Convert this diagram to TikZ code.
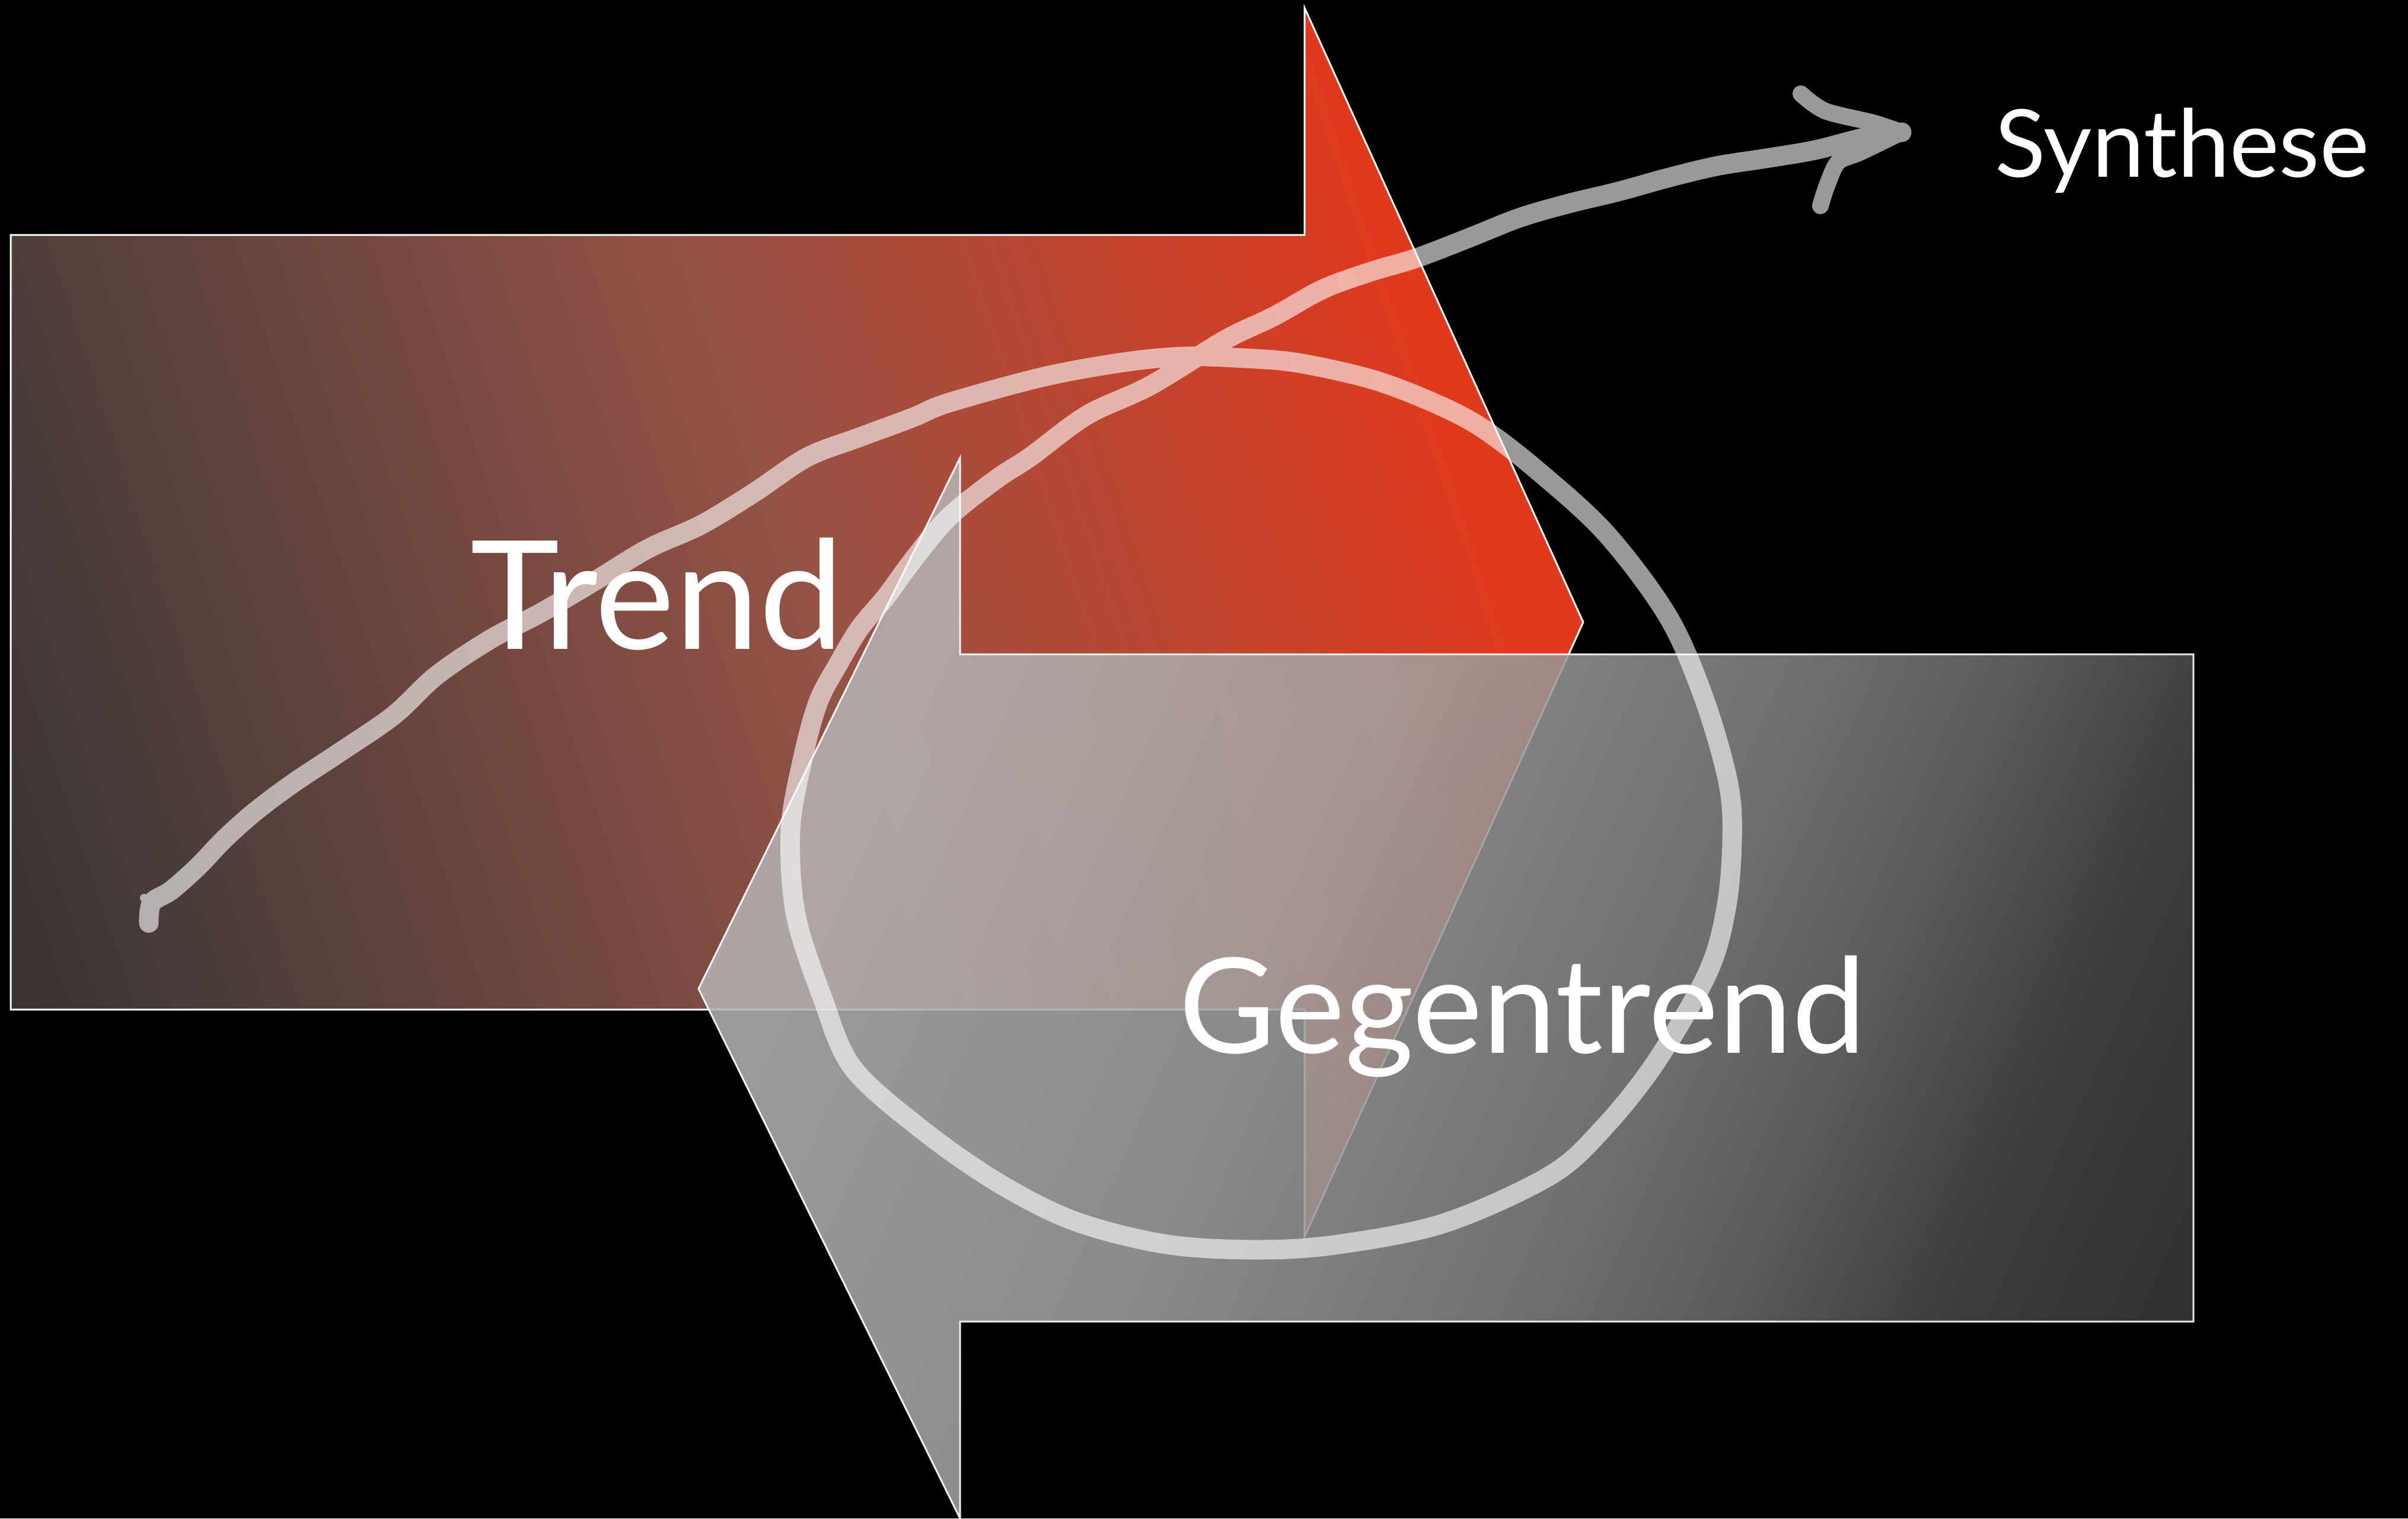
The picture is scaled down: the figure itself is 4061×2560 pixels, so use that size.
\documentclass[tikz,border=0pt]{standalone}
\usepackage{fontspec}
\setmainfont{Lato}
\definecolor{rA}{RGB}{55,50,49}
\definecolor{rB}{RGB}{58,51,50}
\definecolor{rC}{RGB}{68,58,56}
\definecolor{rD}{RGB}{149,82,70}
\definecolor{rE}{RGB}{224,58,30}
\definecolor{rF}{RGB}{226,59,30}
\definecolor{gA}{RGB}{182,182,182}
\definecolor{gB}{RGB}{180,180,180}
\definecolor{gC}{RGB}{162,162,162}
\definecolor{gD}{RGB}{131,131,131}
\definecolor{gE}{RGB}{106,106,106}
\definecolor{gF}{RGB}{73,73,73}
\definecolor{gG}{RGB}{59,59,59}
\pgfdeclarehorizontalshading{redgrad}{100bp}{color(0bp)=(rA); color(21.3bp)=(rB); color(25.3bp)=(rC); color(50.5bp)=(rD); color(72.9bp)=(rE); color(100bp)=(rF)}
\pgfdeclarehorizontalshading{graygrad}{100bp}{color(0bp)=(gA); color(27.8bp)=(gB); color(43.8bp)=(gC); color(57.3bp)=(gD); color(64.5bp)=(gE); color(71.4bp)=(gF); color(78.6bp)=(gG); color(100bp)=(gG)}
\tikzset{
  outline/.style={draw=white, line width=0.3mm, line join=miter},
  label/.style={text=white, inner sep=0pt, anchor=base},
  stroke/.style={draw=white, draw opacity=1, line width=3.3mm, line cap=round, line join=round},
}
\begin{document}
\begin{tikzpicture}[x=0.1mm,y=-0.1mm]
\fill[black] (0,0) rectangle (4061,2560);
\useasboundingbox (0,0) rectangle (4061,2560);
% Trend arrow
\shadedraw[shading=redgrad, shading angle=18.35, outline]
  (18,396) -- (2200,396) -- (2200,13) -- (2670,1049) -- (2200,2085) -- (2200,1702) -- (18,1702) -- cycle;
% Gegentrend arrow
\shadedraw[shading=graygrad, shading angle=-23.9, fill opacity=0.86, outline, draw opacity=0.9]
  (3699,1103) -- (1619,1103) -- (1619,772) -- (1178,1667) -- (1619,2560) -- (1619,2228) -- (3699,2228) -- cycle;
% hand drawn loop
\begin{scope}[transparency group, opacity=0.6]
\draw[stroke] plot[smooth, tension=0.55] coordinates {
 (251,1556) (256,1522) (289,1501) (334,1461) (379,1414) (432,1367) (495,1320)
 (575,1267) (664,1206) (736,1139) (825,1079) (914,1032) (1004,979) (1093,925)
 (1182,885) (1271,831) (1361,771) (1450,737) (1539,704) (1600,679) (1761,635)
 (1900,610) (2000,601) (2100,604) (2190,612) (2315,640) (2420,680) (2500,722)
 (2596,796) (2710,901) (2814,1041) (2875,1181) (2915,1322) (2921,1420) (2911,1532)
 (2880,1640) (2793,1790) (2704,1902) (2614,1982) (2436,2062) (2257,2098) (2123,2107)
 (1968,2098) (1813,2059) (1683,1994) (1554,1904) (1438,1800) (1387,1682) (1342,1542)
 (1333,1401) (1352,1287) (1379,1186) (1414,1119) (1450,1059) (1495,1005) (1539,945)
 (1600,872) (1680,808) (1738,770) (1833,700) (1940,650) (2066,573) (2149,533)
 (2232,487) (2315,457) (2389,435) (2480,400) (2563,367) (2646,343) (2729,323)
 (2812,300) (2895,280) (2978,267) (3061,253) (3144,232) (3207,223)};
\draw[stroke, line width=2.8mm] plot[smooth, tension=0.5] coordinates {(3037,158) (3078,187) (3159,207) (3207,223)};
\draw[stroke, line width=2.8mm] plot[smooth, tension=0.5] coordinates {(3207,223) (3137,257) (3100,273) (3081,313) (3070,347)};
\fill[white, fill opacity=1] (243,1514) circle (7);
\end{scope}
% labels
\node[label, font=\fontsize{72.5}{80}\selectfont] (trend) at (1108,1094) {Trend};
\node[label, font=\fontsize{63.5}{70}\selectfont] (gegentrend) at (2568,1775) {Gegentrend};
\node[label, font=\fontsize{45}{54}\selectfont] (synthese) at (3680,298) {Synthese};
\end{tikzpicture}
\end{document}
